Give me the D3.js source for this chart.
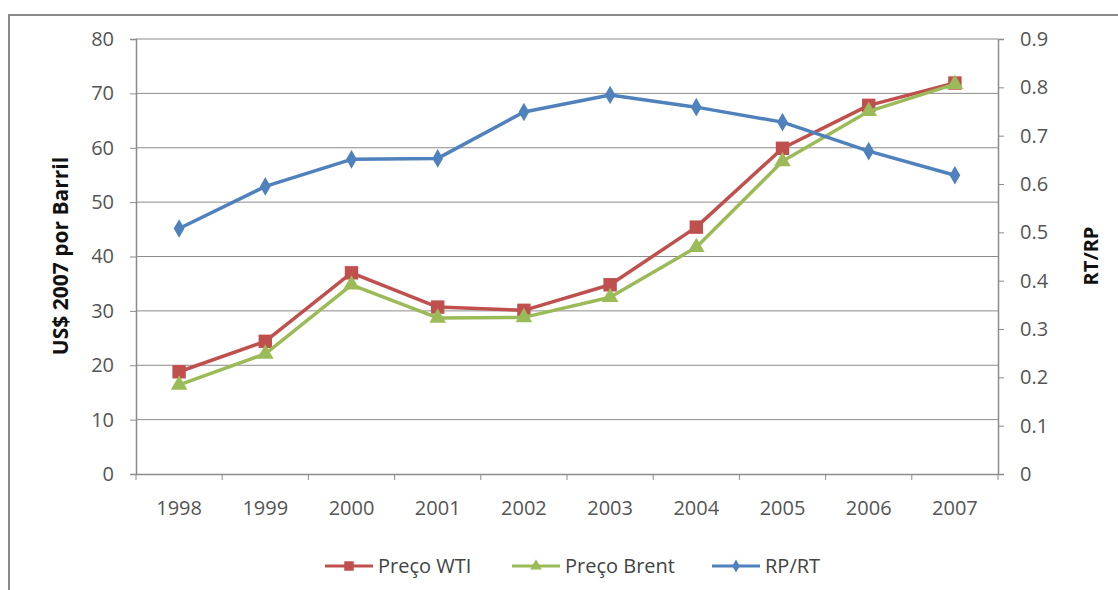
<!DOCTYPE html>
<html><head><meta charset="utf-8">
<script src="https://cdn.jsdelivr.net/npm/d3@7"></script>
<style>body{margin:0;background:#fff}svg{display:block}</style>
</head><body><svg id="c" width="1118" height="590"></svg>
<script>
const years = ["1998","1999","2000","2001","2002","2003","2004","2005","2006","2007"];
const wti   = [18.8, 24.4, 37.0, 30.7, 30.1, 34.8, 45.4, 59.9, 67.8, 71.9];
const brent = [16.4, 22.1, 34.8, 28.7, 28.8, 32.5, 41.7, 57.5, 66.7, 71.7];
const rprt  = [0.508, 0.595, 0.651, 0.653, 0.749, 0.784, 0.759, 0.728, 0.668, 0.618];
const leftTicks = [0,10,20,30,40,50,60,70,80];
const rightTicks = [0,0.1,0.2,0.3,0.4,0.5,0.6,0.7,0.8,0.9];

const svg = d3.select("#c");
const L=136, R=998, T=39, B=474;
const font = "'Open Sans', 'Liberation Sans', sans-serif";
const x = d3.scaleBand().domain(years).range([L,R]);
const yL = d3.scaleLinear().domain([0,80]).range([B,T]);
const yR = d3.scaleLinear().domain([0,0.9]).range([B,T]);
const grey = "#8c8c8c";

// outer frame
svg.append("path").attr("d","M9,590 V15 H1118").attr("fill","none").attr("stroke","#8a8a8a").attr("stroke-width",2);

// gridlines
svg.append("g").selectAll("line").data(leftTicks.slice(1)).join("line")
  .attr("x1",L).attr("x2",R).attr("y1",d=>yL(d)).attr("y2",d=>yL(d))
  .attr("stroke",grey).attr("stroke-width",1);

const gl = svg.append("g").attr("transform",`translate(${L},0)`)
  .call(d3.axisLeft(yL).tickValues(leftTicks).tickSize(6).tickPadding(16));
const gr = svg.append("g").attr("transform",`translate(${R},0)`)
  .call(d3.axisRight(yR).tickValues(rightTicks).tickSize(6).tickPadding(16).tickFormat(d3.format("")));
const gb = svg.append("g").attr("transform",`translate(0,${B})`)
  .call(d3.axisBottom(x).tickSize(0).tickPadding(27));
gb.selectAll("line.sep").data(d3.range(years.length+1)).join("line").attr("class","sep")
  .attr("x1",i=>L+i*x.step()).attr("x2",i=>L+i*x.step()).attr("y1",0).attr("y2",6)
  .attr("stroke",grey);
[gl,gr,gb].forEach(g=>{
  g.select(".domain").attr("stroke",grey).attr("stroke-width",1.5);
  g.selectAll(".tick line").attr("stroke",grey);
  g.selectAll("text").attr("fill","#555").style("font-family",font).style("font-size","20px");
});

svg.append("text").attr("transform","translate(68,256) rotate(-90)").attr("text-anchor","middle")
  .style("font-family",font).style("font-size","21px").style("font-weight","bold").attr("fill","#111")
  .text("US$ 2007 por Barril");
svg.append("text").attr("transform","translate(1098,256) rotate(-90)").attr("text-anchor","middle")
  .style("font-family",font).style("font-size","20px").style("font-weight","bold").attr("fill","#111")
  .text("RT/RP");

const cx = d => x(d)+x.bandwidth()/2;
const series = [
  {name:"Preço WTI", vals:wti, y:yL, color:"#C0504D", sym:d3.symbolSquare, size:180},
  {name:"Preço Brent", vals:brent, y:yL, color:"#9BBB59", sym:d3.symbolTriangle, size:120},
  {name:"RP/RT", vals:rprt, y:yR, color:"#4F81BD", sym:d3.symbolDiamond, size:100}
];
series.forEach(s=>{
  const line = d3.line().x((d,i)=>cx(years[i])).y(d=>s.y(d));
  svg.append("path").datum(s.vals).attr("d",line).attr("fill","none")
    .attr("stroke",s.color).attr("stroke-width",3.5).attr("stroke-linejoin","round");
  svg.append("g").selectAll("path").data(s.vals).join("path")
    .attr("transform",(d,i)=>`translate(${cx(years[i])},${s.y(d)})`)
    .attr("d",d3.symbol().type(s.sym).size(s.size)).attr("fill",s.color);
});

const legX = [325, 512, 712];
series.forEach((s,i)=>{
  const g = svg.append("g").attr("transform",`translate(${legX[i]},566)`);
  g.append("line").attr("x1",0).attr("x2",48).attr("stroke",s.color).attr("stroke-width",3);
  g.append("path").attr("transform","translate(24,0)").attr("d",d3.symbol().type(s.sym).size(s.size*0.5)).attr("fill",s.color);
  g.append("text").attr("x",53).attr("y",7).style("font-family",font).style("font-size","20px").attr("fill","#444").text(s.name);
});
</script></body></html>
